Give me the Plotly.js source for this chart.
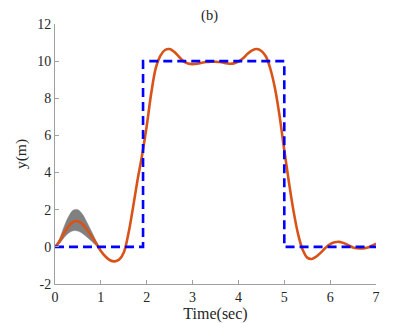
<!DOCTYPE html>
<html><head><meta charset="utf-8">
<script src="https://cdn.plot.ly/plotly-3.0.1.min.js"></script>
<style>html,body{margin:0;padding:0;background:#fff;}#chart{width:415px;height:323px;}</style>
</head><body><div id="chart"></div>
<script>
const time = [0,0.1,0.2,0.3,0.4,0.5,0.6,0.7,0.8,0.9,1.0,1.1,1.2,1.3,1.4,1.5,1.6,1.7,1.8,1.9,2.0,2.1,2.2,2.3,2.4,2.5,2.6,2.7,2.8,2.9,3.0,3.1,3.2,3.3,3.4,3.5,3.6,3.7,3.8,3.9,4.0,4.1,4.2,4.3,4.4,4.5,4.6,4.7,4.8,4.9,5.0,5.1,5.2,5.3,5.4,5.5,5.6,5.7,5.8,5.9,6.0,6.1,6.2,6.3,6.4,6.5,6.6,6.7,6.8,6.9,7.0];
const response = [0,0.3,0.75,1.12,1.35,1.38,1.22,0.92,0.57,0.18,-0.22,-0.52,-0.72,-0.78,-0.68,-0.3,0.7,2.1,3.6,4.95,6.5,8.3,9.65,10.3,10.6,10.65,10.5,10.25,10.0,9.87,9.84,9.86,9.91,9.95,9.97,9.97,9.95,9.9,9.86,9.88,9.97,10.15,10.4,10.58,10.65,10.55,10.25,9.55,8.5,7.0,5.2,3.5,1.95,0.7,-0.15,-0.58,-0.65,-0.52,-0.3,-0.05,0.15,0.25,0.27,0.2,0.08,-0.03,-0.07,-0.08,-0.05,0.05,0.18];
const bandTime = [0,0.1,0.2,0.3,0.4,0.5,0.6,0.7,0.8,0.9,1.0];
const bandUpper = [0,0.45,1.1,1.65,1.98,2.0,1.75,1.3,0.82,0.3,-0.18];
const bandLower = [0,0.18,0.5,0.75,0.87,0.85,0.72,0.52,0.3,0.06,-0.26];
const refTime = [0,1.92,1.92,5.0,5.0,7.0];
const refValue = [0,0,10,10,0,0];
const xTicks = [0,1,2,3,4,5,6,7];
const yTicks = [-2,0,2,4,6,8,10,12];
const yTickText = ["-2","0","2","4","6","8","10","12"];

const traces = [
  {x: bandTime, y: bandLower, mode:'lines', line:{color:'#808080', width:0.5, shape:'spline'}, hoverinfo:'skip', showlegend:false},
  {x: bandTime, y: bandUpper, mode:'lines', fill:'tonexty', fillcolor:'#808080', line:{color:'#808080', width:0.5, shape:'spline'}, hoverinfo:'skip', showlegend:false},
  {x: time, y: response, mode:'lines', line:{color:'#D95319', width:2.6, shape:'spline', smoothing:1}, showlegend:false},
  {x: refTime, y: refValue, mode:'lines', line:{color:'#0000FF', width:2.6, dash:'9px,5px'}, showlegend:false}
];
const axisCommon = {showline:true, linecolor:'#a0a0a0', linewidth:1, ticks:'inside', ticklen:4, tickcolor:'#a0a0a0', showgrid:false, zeroline:false, mirror:false, tickfont:{family:'Liberation Serif', size:14, color:'#262626'}};
const layout = {
  width:415, height:323,
  margin:{l:55, r:39, t:24, b:39},
  paper_bgcolor:'#fff', plot_bgcolor:'#fff',
  font:{family:'Liberation Serif', color:'#262626'},
  title:{text:'(b)', font:{family:'Liberation Serif', size:14.5, color:'#262626'}, x:0.505, xanchor:'center', y:0.955, yanchor:'middle'},
  xaxis:Object.assign({}, axisCommon, {range:[0,7], tickvals:xTicks, title:{text:'Time(sec)', font:{family:'Liberation Serif', size:16, color:'#262626'}, standoff:0}}),
  yaxis:Object.assign({}, axisCommon, {range:[-2,12], tickvals:yTicks, ticktext:yTickText, title:{text:'y(m)', font:{family:'Liberation Serif', size:15.5, color:'#262626'}, standoff:6}}),
  showlegend:false
};
Plotly.newPlot('chart', traces, layout, {displayModeBar:false, staticPlot:true});
</script></body></html>
